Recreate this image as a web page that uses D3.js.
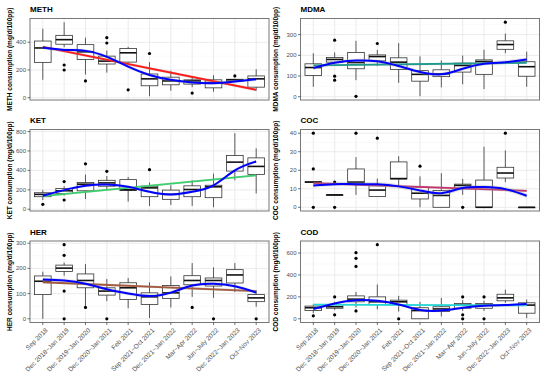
<!DOCTYPE html>
<html>
<head>
<meta charset="utf-8">
<script src="https://cdn.jsdelivr.net/npm/d3@7"></script>
<style>
  body { margin: 0; background: #fff; }
  svg { font-family: "Liberation Sans", Arial, sans-serif; }
</style>
</head>
<body>
<div id="chart"></div>
<script>
// sampling periods
const categories = ["Sep 2018", "Dec 2018~Jan 2019", "Dec 2019~Jan 2020", "Dec 2020~Jan 2021",
  "Feb 2021", "Sep 2021~Oct 2021", "Dec 2021~Jan 2022", "Mar~Apr 2022", "Jun~July 2022",
  "Dec 2022~Jan 2023", "Oct~Nov 2023"];

// METH
const methLo = [129, 365, 167, 181, 250, 10, 50, 76, 43, 114, 52];
const methQ1 = [255, 386, 276, 243, 257, 86, 93, 98, 71, 119, 76];
const methMed = [359, 419, 331, 264, 324, 136, 121, 121, 109, 129, 136];
const methQ3 = [409, 450, 383, 300, 355, 171, 148, 129, 129, 133, 157];
const methHi = [498, 545, 433, 340, 367, 257, 195, 152, 162, 136, 205];
const methOut = [[1, 236], [1, 200], [2, 121], [3, 433], [3, 395], [4, 57], [5, 319], [7, 33], [9, 157]];
const methLoess = [362, 345, 338, 295, 224, 164, 129, 110, 105, 117, 133];
const methLinear = [367, 57];
const methTicks = [0, 200, 400];

// MDMA
const mdmaLo = [48, 150, 80, 148, 67, 3, 45, 60, 37, 210, 48];
const mdmaQ1 = [102, 167, 135, 173, 132, 75, 97, 119, 108, 229, 99];
const mdmaMed = [141, 180, 165, 194, 167, 108, 110, 151, 170, 252, 145];
const mdmaQ3 = [159, 189, 214, 202, 188, 126, 130, 162, 178, 270, 169];
const mdmaHi = [210, 214, 270, 226, 259, 195, 175, 199, 227, 305, 218];
const mdmaOut = [[1, 273], [1, 99], [1, 80], [2, 2], [3, 257], [9, 360]];
const mdmaLoess = [138, 164, 175, 171, 148, 119, 108, 135, 159, 167, 180];
const mdmaLinear = [151, 164];
const mdmaTicks = [0, 100, 200, 300];

// KET
const ketLo = [95, 140, 105, 203, 78, 34, 44, 34, 20, 298, 163];
const ketQ1 = [129, 163, 190, 237, 193, 129, 102, 129, 119, 393, 359];
const ketMed = [153, 190, 258, 271, 200, 220, 153, 203, 231, 485, 441];
const ketQ3 = [170, 214, 275, 298, 305, 237, 197, 241, 247, 553, 529];
const ketHi = [197, 237, 356, 342, 332, 275, 247, 298, 366, 783, 627];
const ketOut = [[0, 51], [1, 285], [1, 95], [2, 468], [3, 390], [5, 407]];
const ketLoess = [139, 197, 241, 254, 231, 180, 153, 180, 247, 400, 492];
const ketLinear = [136, 349];
const ketTicks = [0, 200, 400, 600, 800];

// COC
const cocLo = [13.5, 6.7, 6.7, 5.8, 12, 0, 0, 6.7, 0, 13.6, 0];
const cocQ1 = [13.5, 6.7, 13.1, 5.8, 15.3, 4.5, 0, 10, 0, 15.8, 0];
const cocMed = [13.6, 6.7, 13.6, 9.3, 15.5, 7.6, 6.4, 11.8, 0, 18.5, 0];
const cocQ3 = [13.8, 6.7, 20.7, 11.6, 24.5, 10.9, 9.1, 12.5, 14.7, 21.6, 0];
const cocHi = [13.8, 6.7, 27.1, 15.5, 27.6, 16.7, 18.4, 15.3, 32.7, 30.7, 0];
const cocOut = [[0, 40], [0, 20.7], [0, 0], [1, 13.6], [1, 0], [2, 40], [3, 37.3], [5, 22.2], [7, 0], [9, 40]];
const cocLoess = [11.8, 12.5, 12.5, 12.4, 11.3, 9.1, 7.6, 10.4, 10.9, 9.8, 6.2];
const cocLinear = [13.1, 8.9];
const cocTicks = [0, 10, 20, 30, 40];

// HER
const herLo = [0, 171, 48, 70, 42, 3, 45, 87, 83, 106, 48];
const herQ1 = [96, 188, 123, 94, 77, 57, 81, 135, 130, 142, 68];
const herMed = [149, 201, 152, 110, 123, 87, 103, 152, 152, 174, 83];
const herQ3 = [170, 213, 178, 123, 143, 103, 132, 171, 162, 195, 96];
const herHi = [187, 223, 217, 158, 162, 145, 168, 221, 204, 221, 113];
const herOut = [[1, 294], [1, 252], [1, 110], [1, 0], [2, 45], [3, 0], [7, 45], [8, 0], [10, 0]];
const herLoess = [156, 152, 139, 117, 100, 90, 104, 132, 139, 129, 104];
const herLinear = [145, 110];
const herTicks = [0, 100, 200, 300];

// COD
const codLo = [51, 81, 104, 87, 66, 0, 21, 72, 72, 146, 6];
const codQ1 = [75, 96, 155, 131, 131, 0, 66, 96, 96, 164, 51];
const codMed = [101, 110, 179, 155, 155, 75, 90, 125, 125, 191, 125];
const codQ3 = [116, 131, 209, 200, 170, 101, 110, 140, 140, 224, 146];
const codHi = [131, 155, 245, 313, 209, 155, 191, 170, 164, 266, 176];
const codOut = [[0, 27], [1, 200], [1, 36], [2, 603], [2, 552], [2, 478], [2, 72], [3, 676], [4, 0],
  [7, 200], [7, 36], [7, 0], [8, 200], [8, 0]];
const codLoess = [90, 140, 170, 164, 131, 81, 75, 101, 119, 125, 134];
const codLinear = [130, 122];
const codTicks = [0, 200, 400, 600];

// half width of the grey confidence bands, per panel: [loess, linear]
const methSE = [12, 10], mdmaSE = [9, 5], ketSE = [14, 10];
const cocSE = [1.2, 0.7], herSE = [7, 5], codSE = [12, 8];

const panels = [
  { name: "METH", lo: methLo, q1: methQ1, med: methMed, q3: methQ3, hi: methHi, out: methOut, loess: methLoess, lin: methLinear, ticks: methTicks, se: methSE, linColor: "#ff1a1a" },
  { name: "MDMA", lo: mdmaLo, q1: mdmaQ1, med: mdmaMed, q3: mdmaQ3, hi: mdmaHi, out: mdmaOut, loess: mdmaLoess, lin: mdmaLinear, ticks: mdmaTicks, se: mdmaSE, linColor: "#1e9a8c" },
  { name: "KET", lo: ketLo, q1: ketQ1, med: ketMed, q3: ketQ3, hi: ketHi, out: ketOut, loess: ketLoess, lin: ketLinear, ticks: ketTicks, se: ketSE, linColor: "#3ccf6e" },
  { name: "COC", lo: cocLo, q1: cocQ1, med: cocMed, q3: cocQ3, hi: cocHi, out: cocOut, loess: cocLoess, lin: cocLinear, ticks: cocTicks, se: cocSE, linColor: "#c8326a" },
  { name: "HER", lo: herLo, q1: herQ1, med: herMed, q3: herQ3, hi: herHi, out: herOut, loess: herLoess, lin: herLinear, ticks: herTicks, se: herSE, linColor: "#a5593f" },
  { name: "COD", lo: codLo, q1: codQ1, med: codMed, q3: codQ3, hi: codHi, out: codOut, loess: codLoess, lin: codLinear, ticks: codTicks, se: codSE, linColor: "#22d8d8" }
];

const width = 546, height = 386;
const colLeft = [30, 300.5];
const plotW = 239;
const rowTop = [18.5, 129.5, 241];
const plotH = 81.5;
const titleX = [12, 278];

const svg = d3.select("#chart").append("svg")
  .attr("width", width)
  .attr("height", height);

panels.forEach((p, i) => {
  const col = i % 2, row = Math.floor(i / 2);
  const g = svg.append("g")
    .attr("transform", "translate(" + colLeft[col] + "," + rowTop[row] + ")");

  const x = d3.scalePoint().domain(categories).range([0, plotW]).padding(0.6);
  const xs = categories.map(c => x(c));

  // y range like ggplot: data range expanded by 5%
  const all = p.lo.concat(p.hi, p.out.map(d => d[1]));
  const ymin = d3.min(all), ymax = d3.max(all), r = ymax - ymin;
  const y = d3.scaleLinear().domain([ymin - 0.05 * r, ymax + 0.05 * r]).range([plotH, 0]);

  // grid
  const minor = [];
  for (let k = 0; k < p.ticks.length; k++) {
    const step = p.ticks[1] - p.ticks[0];
    [p.ticks[k] - step / 2, p.ticks[k] + step / 2].forEach(v => {
      if (y(v) > 0 && y(v) < plotH && minor.indexOf(v) < 0) minor.push(v);
    });
  }
  g.selectAll(".ymin").data(minor).enter().append("line")
    .attr("x1", 0).attr("x2", plotW)
    .attr("y1", d => y(d)).attr("y2", d => y(d))
    .style("stroke", "#f2f2f2").style("stroke-width", 0.5);
  g.selectAll(".ymaj").data(p.ticks).enter().append("line")
    .attr("x1", 0).attr("x2", plotW)
    .attr("y1", d => y(d)).attr("y2", d => y(d))
    .style("stroke", "#e6e6e6").style("stroke-width", 0.8);
  g.selectAll(".xmaj").data(categories).enter().append("line")
    .attr("x1", d => x(d)).attr("x2", d => x(d))
    .attr("y1", 0).attr("y2", plotH)
    .style("stroke", "#e6e6e6").style("stroke-width", 0.8);

  // boxplots
  const bw = x.step() * 0.78;
  const idx = d3.range(categories.length);
  g.selectAll(".whisk").data(idx).enter().append("line")
    .attr("x1", k => xs[k]).attr("x2", k => xs[k])
    .attr("y1", k => y(p.lo[k])).attr("y2", k => y(p.hi[k]))
    .style("stroke", "#333").style("stroke-width", 0.8);
  g.selectAll(".box").data(idx).enter().append("rect")
    .attr("x", k => xs[k] - bw / 2).attr("width", bw)
    .attr("y", k => y(p.q3[k]))
    .attr("height", k => Math.max(0.5, y(p.q1[k]) - y(p.q3[k])))
    .style("fill", "#fff").style("stroke", "#333").style("stroke-width", 0.8);
  g.selectAll(".med").data(idx).enter().append("line")
    .attr("x1", k => xs[k] - bw / 2).attr("x2", k => xs[k] + bw / 2)
    .attr("y1", k => y(p.med[k])).attr("y2", k => y(p.med[k]))
    .style("stroke", "#111").style("stroke-width", 1.6);
  g.selectAll(".out").data(p.out).enter().append("circle")
    .attr("cx", d => xs[d[0]]).attr("cy", d => y(d[1])).attr("r", 1.6)
    .style("fill", "#000");

  // linear fit with band
  const linPts = [[xs[0], p.lin[0]], [xs[xs.length - 1], p.lin[1]]];
  g.append("path")
    .attr("d", d3.area().x(d => d[0]).y0(d => y(d[1] - p.se[1])).y1(d => y(d[1] + p.se[1]))(linPts))
    .style("fill", "#999").style("opacity", 0.35);
  g.append("path")
    .attr("d", d3.line().x(d => d[0]).y(d => y(d[1]))(linPts))
    .style("fill", "none").style("stroke", p.linColor).style("stroke-width", 1.8);

  // loess fit with band
  const loPts = idx.map(k => [xs[k], p.loess[k]]);
  g.append("path")
    .attr("d", d3.area().curve(d3.curveNatural).x(d => d[0])
      .y0(d => y(d[1] - p.se[0])).y1(d => y(d[1] + p.se[0]))(loPts))
    .style("fill", "#999").style("opacity", 0.3);
  g.append("path")
    .attr("d", d3.line().curve(d3.curveNatural).x(d => d[0]).y(d => y(d[1]))(loPts))
    .style("fill", "none").style("stroke", "#0000ff").style("stroke-width", 2);

  // border
  g.append("rect").attr("width", plotW).attr("height", plotH)
    .style("fill", "none").style("stroke", "#777").style("stroke-width", 1);

  // y axis
  const ya = g.append("g");
  ya.selectAll("line").data(p.ticks).enter().append("line")
    .attr("x1", -2.5).attr("x2", 0)
    .attr("y1", d => y(d)).attr("y2", d => y(d))
    .style("stroke", "#333").style("stroke-width", 0.7);
  ya.selectAll("text").data(p.ticks).enter().append("text")
    .attr("x", -4).attr("y", d => y(d)).attr("dy", "0.35em")
    .attr("text-anchor", "end")
    .style("font-size", "6px").style("fill", "#4d4d4d")
    .text(d => d);

  // panel title
  g.append("text").attr("x", 0).attr("y", -6.5)
    .style("font-size", "8px").style("font-weight", "bold").style("fill", "#000")
    .text(p.name);

  // y axis title
  svg.append("text")
    .attr("transform", "translate(" + titleX[col] + "," + (rowTop[row] + plotH / 2) + ") rotate(-90)")
    .attr("text-anchor", "middle")
    .style("font-size", "6.5px").style("font-weight", "bold").style("fill", "#000")
    .text(p.name + " consumption (mg/d/100pp)");

  // x axis on bottom row
  if (row === 2) {
    g.selectAll(".xt").data(categories).enter().append("line")
      .attr("x1", d => x(d)).attr("x2", d => x(d))
      .attr("y1", plotH).attr("y2", plotH + 2.5)
      .style("stroke", "#333").style("stroke-width", 0.7);
    g.selectAll(".xl").data(categories).enter().append("text")
      .attr("transform", d => "translate(" + (x(d) + 2) + "," + (plotH + 5) + ") rotate(-45)")
      .attr("text-anchor", "end").attr("dy", "0.7em")
      .style("font-size", "6.5px").style("fill", "#4d4d4d")
      .text(d => d);
  }
});
</script>
</body>
</html>
